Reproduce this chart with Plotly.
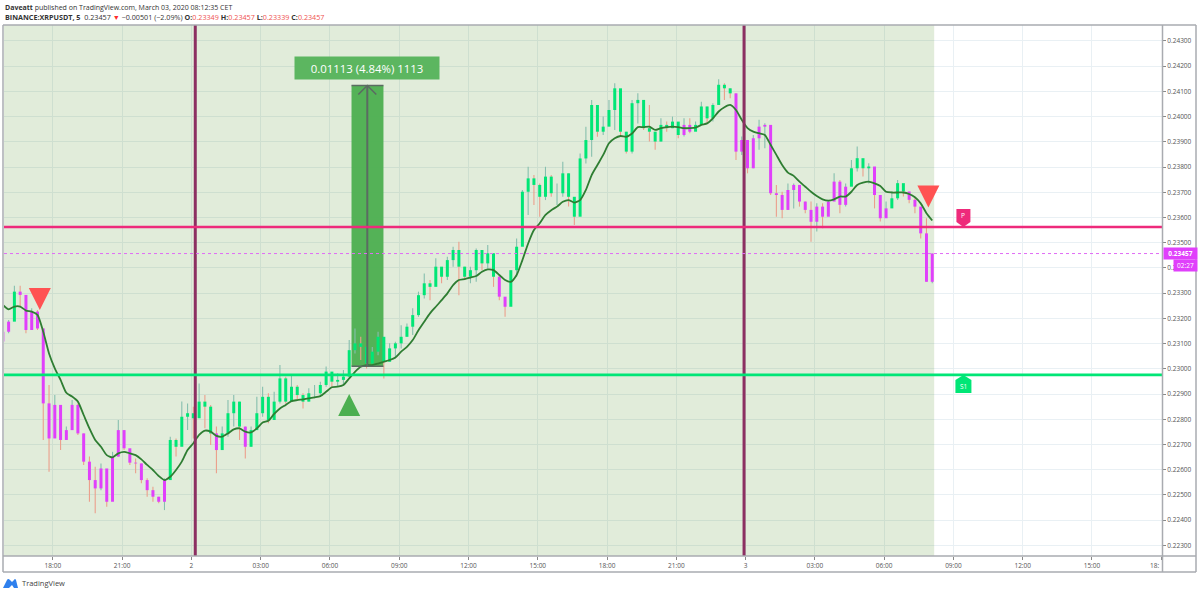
import plotly.graph_objects as go
import pandas as pd

# ---- data (prices in 1e-5 USDT) ----
closes = [23147,23187,23306,23293,23154,23227,23160,22863,22724,22857,22718,22757,22857,22744,22632,22559,22526,22605,22473,22652,
22757,22685,22628,22625,22559,22519,22493,22473,22559,22718,22691,22810,22824,22804,22870,22850,22744,22678,22744,22824,
22870,22771,22691,22757,22824,22889,22797,22870,22962,22870,22929,22896,22870,22903,22903,22936,22989,22949,22956,22969,
23074,23101,23087,23021,23068,23127,23028,23081,23101,23127,23167,23213,23292,23339,23325,23405,23365,23431,23471,23405,
23365,23391,23471,23418,23458,23365,23286,23246,23391,23484,23702,23755,23729,23682,23762,23696,23696,23775,23682,23603,
23834,23907,24046,23940,23960,24026,24112,23940,23861,24053,24066,23954,23940,23901,23967,23954,23980,23927,23967,23940,
23967,24040,23993,24046,24126,24112,24092,23861,23907,23795,23914,23960,23967,23696,23689,23630,23709,23729,23663,23630,
23583,23643,23603,23663,23742,23650,23722,23795,23835,23795,23802,23689,23597,23636,23676,23736,23703,23670,23643,23537,
23345,23457]
highs = [23187,23194,23329,23329,23240,23240,23233,23160,22936,22896,22857,22771,22876,22863,22744,22652,22612,22625,22586,22671,
22797,22757,22678,22645,22625,22566,22533,22493,22566,22731,22724,22870,22863,22850,22942,22896,22857,22771,22771,22876,
22896,22870,22771,22771,22889,22929,22903,22909,23015,22969,22975,22936,22903,22923,22936,22949,23009,22982,22982,22995,
23114,23160,23127,23087,23087,23147,23074,23101,23107,23173,23180,23240,23306,23378,23352,23438,23398,23444,23484,23504,
23405,23405,23477,23471,23491,23458,23371,23279,23391,23517,23709,23801,23768,23735,23801,23768,23735,23821,23775,23662,
23854,23960,24066,24039,24000,24066,24132,23980,23940,24066,24092,24053,24046,23940,23993,23980,24000,23967,23993,23993,
23980,24059,24040,24053,24148,24132,24112,24092,23921,23907,23927,23987,23974,23921,23729,23702,23735,23735,23709,23663,
23663,23656,23656,23669,23775,23749,23735,23828,23881,23828,23815,23729,23663,23663,23703,23749,23729,23696,23676,23636,
23597,23457]
lows = [23108,23141,23247,23247,23141,23160,23154,22718,22592,22757,22678,22718,22790,22738,22619,22473,22427,22519,22453,22586,
22652,22678,22619,22586,22546,22493,22473,22467,22440,22566,22652,22744,22757,22724,22837,22764,22698,22586,22711,22731,
22771,22718,22645,22691,22757,22810,22784,22863,22863,22863,22883,22876,22843,22870,22883,22896,22929,22929,22929,22936,
22995,23061,23035,23001,23035,23054,22962,23028,23041,23081,23127,23134,23206,23279,23272,23339,23339,23352,23405,23292,
23352,23339,23345,23391,23398,23325,23272,23206,23279,23365,23550,23610,23649,23603,23669,23682,23649,23682,23643,23570,
23649,23814,23841,23920,23927,23986,23947,23920,23854,23854,23973,23947,23901,23868,23901,23940,23954,23914,23921,23934,
23947,23967,23973,23980,24059,24066,24073,23828,23848,23775,23795,23868,23874,23689,23603,23597,23630,23636,23643,23617,
23504,23544,23557,23617,23669,23617,23643,23742,23782,23762,23735,23636,23584,23630,23656,23669,23683,23656,23617,23517,
23345,23339]
ma_line = [23253,23236,23247,23247,23231,23227,23214,23147,23061,23002,22956,22905,22890,22870,22817,22764,22718,22691,22658,22649,
22665,22671,22665,22658,22641,22619,22599,22575,22559,22572,22599,22632,22678,22705,22738,22755,22751,22734,22731,22744,
22760,22764,22751,22748,22764,22787,22794,22821,22843,22857,22872,22876,22879,22883,22887,22892,22909,22927,22929,22936,
22962,22988,23008,23015,23015,23021,23028,23035,23045,23068,23087,23114,23153,23187,23220,23246,23272,23299,23332,23352,
23356,23362,23368,23385,23394,23391,23372,23352,23345,23372,23431,23497,23550,23577,23610,23629,23643,23662,23669,23659,
23669,23709,23768,23808,23848,23894,23914,23923,23920,23933,23958,23958,23960,23947,23954,23958,23960,23958,23954,23954,
23956,23967,23973,23993,24020,24037,24046,24026,23987,23954,23940,23934,23927,23888,23848,23808,23778,23765,23742,23722,
23702,23685,23672,23667,23672,23683,23683,23702,23729,23738,23742,23735,23725,23702,23699,23699,23699,23693,23680,23656,
23617,23588]
first_open = 23108
magenta_runs = [(0,1),(3,28),(37,37),(42,42),(86,87),(118,119),(127,146),(151,153),(157,161)]

resistance_p = 0.23562
support_s1 = 0.22976
last_price = 0.23457
measure_low, measure_high = 0.23010, 0.24123
x_ticks = ["2020-03-01 18:00","2020-03-01 21:00","2020-03-02 00:00","2020-03-02 03:00","2020-03-02 06:00","2020-03-02 09:00",
           "2020-03-02 12:00","2020-03-02 15:00","2020-03-02 18:00","2020-03-02 21:00","2020-03-03 00:00","2020-03-03 03:00",
           "2020-03-03 06:00","2020-03-03 09:00","2020-03-03 12:00","2020-03-03 15:00","2020-03-03 18:00"]
x_labels = ["18:00","21:00","2","03:00","06:00","09:00","12:00","15:00","18:00","21:00","3","03:00","06:00","09:00","12:00","15:00",""]
y_ticks = [0.223+0.001*k for k in range(21)]
y_labels = [f"{v:.5f}" for v in y_ticks]

# ---- derived ----
times = pd.date_range("2020-03-01 15:50", periods=len(closes), freq="15min")
c = [v/1e5 for v in closes]; h = [v/1e5 for v in highs]; l = [v/1e5 for v in lows]
o = [first_open/1e5] + c[:-1]
MAG, GRN = "#e040fb", "#00e676"
colors = [GRN]*len(c)
for a, b in magenta_runs:
    for i in range(a, b+1):
        colors[i] = MAG

def segs(sel, lo, hi):
    xs, ys = [], []
    for i in range(len(c)):
        if sel(i):
            xs += [times[i], times[i], None]; ys += [lo[i], hi[i], None]
    return xs, ys

fig = go.Figure()
for sel, col in ((lambda i: c[i] >= o[i], "#86bfae"), (lambda i: c[i] < o[i], "#eb9f8c")):
    xs, ys = segs(sel, l, h)
    fig.add_trace(go.Scatter(x=xs, y=ys, mode="lines", line=dict(color=col, width=1.1), hoverinfo="skip"))
for col in (GRN, MAG):
    xs, ys = segs(lambda i: colors[i] == col, o, c)
    fig.add_trace(go.Scatter(x=xs, y=ys, mode="lines", line=dict(color=col, width=3), hoverinfo="skip"))
fig.add_trace(go.Scatter(x=times, y=[v/1e5 for v in ma_line], mode="lines",
                         line=dict(color="#2e7d32", width=1.8, shape="spline", smoothing=0.6), hoverinfo="skip"))

PANEL = dict(xref="x", yref="y")
shapes = []
# shaded session
shapes.append(dict(type="rect", **PANEL, x0="2020-03-01 15:53", x1="2020-03-03 08:10", y0=0.22258, y1=0.24363,
                   fillcolor="rgba(70,140,30,0.165)", line=dict(width=0), layer="between"))
# measure box
m0, m1, mc = "2020-03-02 06:56", "2020-03-02 08:19", "2020-03-02 07:37"
shapes.append(dict(type="rect", **PANEL, x0=m0, x1=m1, y0=measure_low, y1=measure_high,
                   fillcolor="rgba(76,175,80,0.95)", line=dict(width=0), layer="between"))
for yy in (measure_low, measure_high):
    shapes.append(dict(type="line", **PANEL, x0=m0, x1=m1, y0=yy, y1=yy, line=dict(color="#5b6b62", width=1.5)))
shapes.append(dict(type="line", **PANEL, x0=mc, x1=mc, y0=measure_low, y1=measure_high, line=dict(color="#5b6b62", width=2)))
shapes.append(dict(type="path", xref="x", yref="y", xsizemode="pixel", ysizemode="pixel", xanchor=mc, yanchor=measure_high,
                   path="M-9,-9 L0,0 L9,-9", line=dict(color="#5b6b62", width=1.6)))
# session separators
for xv in ("2020-03-02 00:10", "2020-03-02 23:56"):
    shapes.append(dict(type="line", **PANEL, x0=xv, x1=xv, y0=0.22258, y1=0.24363, line=dict(color="#8c2f62", width=3)))
# pivots
shapes.append(dict(type="line", xref="paper", yref="y", x0=0, x1=1, y0=resistance_p, y1=resistance_p, line=dict(color="#ee2a7b", width=2.6)))
shapes.append(dict(type="line", xref="paper", yref="y", x0=0, x1=1, y0=support_s1, y1=support_s1, line=dict(color="#00e676", width=2.6)))
shapes.append(dict(type="line", xref="paper", yref="y", x0=0, x1=1, y0=last_price, y1=last_price, line=dict(color="#e06cf5", width=1, dash="dot")))
# triangles
def tri(xv, yv, col, up=False):
    p = "M-11,-11 L11,-11 L0,11 Z" if up else "M-11,11 L11,11 L0,-11 Z"
    shapes.append(dict(type="path", xref="x", yref="y", xsizemode="pixel", ysizemode="pixel", xanchor=xv, yanchor=yv,
                       path=p, fillcolor=col, line=dict(width=0)))
tri("2020-03-01 17:26", 0.23277, "#ff5252")
tri("2020-03-03 07:55", 0.23683, "#ff5252")
tri("2020-03-02 06:50", 0.22857, "#4caf50", up=True)
# P / S1 flags
flag_x = "2020-03-03 09:26"
shapes.append(dict(type="path", xref="x", yref="y", xsizemode="pixel", ysizemode="pixel", xanchor=flag_x, yanchor=resistance_p,
                   path="M-7,18 L7,18 L7,5 L0,0 L-7,5 Z", fillcolor="#ee2a7b", line=dict(width=0)))
shapes.append(dict(type="path", xref="x", yref="y", xsizemode="pixel", ysizemode="pixel", xanchor=flag_x, yanchor=support_s1,
                   path="M-8,-18 L8,-18 L8,-5 L0,0 L-8,-5 Z", fillcolor="#00e676", line=dict(width=0)))
# frame
PX = lambda v: (v-4)/1158
PY = lambda v: (556-v)/531
GR = dict(color="#a9abb0", width=1.5)
for x0, x1, y0, y1 in ((3,1196,25,25),(3,3,25,572),(3,1196,572,572),(1196,1196,25,572),(1162.5,1162.5,25,572),(3,1196,556,556)):
    shapes.append(dict(type="line", xref="paper", yref="paper", x0=PX(x0), x1=PX(x1), y0=PY(y0), y1=PY(y1), line=GR))
# logo
shapes.append(dict(type="path", xref="paper", yref="paper", xsizemode="pixel", ysizemode="pixel", xanchor=PX(3), yanchor=PY(588),
                   path="M0,0 L4,8 Q5,10 7,8 L9,6 L11,8 Q12,10 13,8 L15,0 L11,0 L9,3 L7,1 L6,0 Z", fillcolor="#2f80ed", line=dict(width=0)))

F = "Open Sans, sans-serif"
def note(text, x, y, xref="paper", yref="paper", size=7, color="#333", anchor="left", **kw):
    return dict(text=text, x=x, y=y, xref=xref, yref=yref, showarrow=False, xanchor=anchor, yanchor="middle",
                font=dict(family=F, size=size, color=color), **kw)
red = "<span style='color:#ef5350'>"
ann = [
    note("<b>Daveatt</b> published on TradingView.com, March 03, 2020 08:12:35 CET", PX(3), PY(7.5)),
    note(f"<b>BINANCE:XRPUSDT, 5</b>  0.23457 <span style='color:#ff2d2d'>▼</span> −0.00501 (−2.09%) <b>O:</b>{red}0.23349</span> <b>H:</b>{red}0.23457</span> <b>L:</b>{red}0.23339</span> <b>C:</b>{red}0.23457</span>", PX(3), PY(17), size=7.2),
    note("TradingView", PX(20), PY(583), size=7.5, color="#444"),
    note("18:", PX(1161), PY(565), size=6.5, color="#555", anchor="right"),
    note("0.01113 (4.84%) 1113", mc, PY(68), xref="x", size=11.4, color="#ffffff", anchor="center",
         bgcolor="#5cb660", width=142, height=20),
    note("P", flag_x, PY(215.5), xref="x", size=6.5, color="#fff", anchor="center"),
    note("S1", flag_x, PY(386.5), xref="x", size=6.5, color="#fff", anchor="center"),
    note("<b>0.23457</b>", PX(1180.5), last_price, yref="y", size=6.5, color="#fff", anchor="center", bgcolor="#e040fb", width=31, height=9),
    note("02:27", PX(1185), PY(265), size=6.5, color="#fff", anchor="center", bgcolor="#e040fb", width=21, height=9),
]

fig.update_layout(
    width=1200, height=594, autosize=False, showlegend=False, paper_bgcolor="white", plot_bgcolor="white",
    margin=dict(l=4, r=38, t=25, b=38), shapes=shapes, annotations=ann,
    xaxis=dict(type="date", range=["2020-03-01 15:53", "2020-03-03 18:02"], tickmode="array", tickvals=x_ticks, ticktext=x_labels,
               showgrid=True, gridcolor="#e9f0f4", gridwidth=1, zeroline=False, ticks="outside", ticklen=3, tickcolor="#888",
               tickfont=dict(family=F, size=6.5, color="#555"), tickangle=0),
    yaxis=dict(side="right", range=[0.22258, 0.24363], tickmode="array", tickvals=y_ticks, ticktext=y_labels,
               showgrid=True, gridcolor="#e9f0f4", gridwidth=1, zeroline=False, ticks="outside", ticklen=3, tickcolor="#888",
               tickfont=dict(family=F, size=6.5, color="#555")),
)
fig.write_html("out.html", post_script="document.body.style.margin='0';", config=dict(displayModeBar=False))
